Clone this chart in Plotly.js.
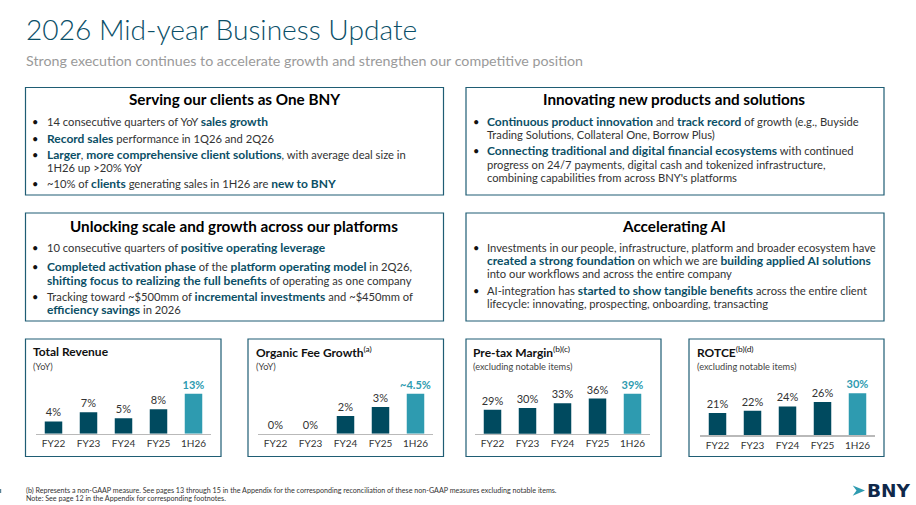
<!DOCTYPE html>
<html><head><meta charset="utf-8">
<script src="https://cdn.plot.ly/plotly-3.0.1.min.js"></script>
<style>html,body{margin:0;padding:0;background:#fff}#c{width:916px;height:505px}</style>
</head><body><div id="c"></div>
<script>
// ---- chart data ----
var categories = ['FY22','FY23','FY24','FY25','1H26'];
var revenueValues = [4,7,5,8,13];
var revenueLabels = ['4%','7%','5%','8%','13%'];
var organicValues = [0,0,2,3,4.5];
var organicLabels = ['0%','0%','2%','3%','~4.5%'];
var marginValues = [29,30,33,36,39];
var marginLabels = ['29%','30%','33%','36%','39%'];
var rotceValues = [21,22,24,26,30];
var rotceLabels = ['21%','22%','24%','26%','30%'];
var panelTitles = ['<b>Total Revenue</b>','<b>Organic Fee Growth</b><sup>(a)</sup>','<b>Pre-tax Margin</b><sup>(b)(c)</sup>','<b>ROTCE</b><sup>(b)(d)</sup>'];
var panelSubtitles = ['(YoY)','(YoY)','(excluding notable items)','(excluding notable items)'];
var headings = ['Serving our clients as One BNY','Innovating new products and solutions','Unlocking scale and growth across our platforms','Accelerating AI'];
function B(s){return '<span style="color:#0b4f66;font-size:12px"><b>'+s+'</b></span>';}
var box1 = ['14 consecutive quarters of YoY '+B('sales growth'),
  B('Record sales')+' performance in 1Q26 and 2Q26',
  B('Larger')+', '+B('more comprehensive client solutions')+', with average deal size in',
  '1H26 up >20% YoY',
  '~10% of '+B('clients')+' generating sales in 1H26 are '+B('new to BNY')];
var box2 = [B('Continuous product innovation')+' and '+B('track record')+' of growth (e.g., Buyside',
  'Trading Solutions, Collateral One, Borrow Plus)',
  B('Connecting traditional and digital financial ecosystems')+' with continued',
  'progress on 24/7 payments, digital cash and tokenized infrastructure,',
  "combining capabilities from across BNY's platforms"];
var box3 = ['10 consecutive quarters of '+B('positive operating leverage'),
  B('Completed activation phase')+' of the '+B('platform operating model')+' in 2Q26,',
  B('shifting focus to realizing the full benefits')+' of operating as one company',
  'Tracking toward ~$500mm of '+B('incremental investments')+' and ~$450mm of',
  B('efficiency savings')+' in 2026'];
var box4 = ['Investments in our people, infrastructure, platform and broader ecosystem have',
  B('created a strong foundation')+' on which we are '+B('building applied AI solutions'),
  'into our workflows and across the entire company',
  'AI-integration has '+B('started to show tangible benefits')+' across the entire client',
  'lifecycle: innovating, prospecting, onboarding, transacting'];
var footnotes = ['(b) Represents a non-GAAP measure. See pages 13 through 15 in the Appendix for the corresponding reconciliation of these non-GAAP measures excluding notable items.',
  'Note: See page 12 in the Appendix for corresponding footnotes.'];

// ---- layout ----
var W=916,H=505, FONT='Lato, sans-serif', DARK='#004a5f', TEAL='#2e9bb0', BORDER='#1f5d74';
function px(x){return x/W;} function py(y){return 1-y/H;}
var ann=[], shapes=[];
function text(x,y,s,size,color,anchor,extra){
  var f={family:(extra&&extra.family)||FONT,size:size,color:color};
  if(extra&&extra.weight)f.weight=extra.weight;
  ann.push({xref:'paper',yref:'paper',x:px(x),y:py(y),text:s,showarrow:false,font:f,xanchor:anchor||'left',yanchor:'middle',align:anchor||'left',borderpad:0,borderwidth:0});
}
function rect(x0,y0,x1,y1){shapes.push({type:'rect',xref:'paper',yref:'paper',x0:px(x0),x1:px(x1),y0:py(y0),y1:py(y1),line:{color:BORDER,width:1.2},fillcolor:'rgba(0,0,0,0)'});}

text(25.5,28.5,'2026 Mid-year Business Update',28.15,'#0a4f68','left',{weight:300});
text(25.5,60.5,'Strong execution continues to accelerate growth and strengthen our competitive position',14.25,'#9a9a9a','left');

rect(25.5,87.5,443.5,195);rect(466,87.5,884,195);rect(25.5,213,443.5,321);rect(466,213,884,321);
rect(25.5,339,221,456.5);rect(248,339,443.5,456.5);rect(466,339,661,456.5);rect(689,339,884,456.5);

var boxes=[
 {lines:box1,head:headings[0],hx:234.5,hy:99.5,tx:46.5,bx:34.5,ys:[121.4,138.4,154.4,167.4,183.4],bullets:[0,1,2,4]},
 {lines:box2,head:headings[1],hx:674,hy:99.5,tx:486.5,bx:476,ys:[121,134.4,150.6,164,177],bullets:[0,2]},
 {lines:box3,head:headings[2],hx:234.5,hy:226.2,tx:46.5,bx:34.5,ys:[247.6,266.6,280,296,309.6],bullets:[0,1,3]},
 {lines:box4,head:headings[3],hx:674,hy:226.2,tx:486.5,bx:476,ys:[247.6,260.4,273.6,290,303.4],bullets:[0,3]}
];
boxes.forEach(function(b){
  text(b.hx,b.hy,'<b>'+b.head+'</b>',15.25,'#000','center');
  b.lines.forEach(function(l,i){text(b.tx,b.ys[i],l,11.2,'#333');});
  b.bullets.forEach(function(i){text(b.bx,b.ys[i],'•',11,'#111','center');});
});

var panels=[
 {v:revenueValues,t:revenueLabels,l:36,r:211,base:433.7,top:375,floor:0,scale:3.07,tx:32.5},
 {v:organicValues,t:organicLabels,l:258,r:433,base:433.7,top:375,floor:0,scale:8.9,tx:255.5},
 {v:marginValues,t:marginLabels,l:475,r:650,base:433.7,top:375,floor:14,scale:1.6,tx:473},
 {v:rotceValues,t:rotceLabels,l:700,r:875,base:435.3,top:375,floor:10.8,scale:2.19,tx:697}
];
var traces=[], layout={width:W,height:H,margin:{l:0,r:0,t:0,b:0},paper_bgcolor:'#fff',plot_bgcolor:'rgba(0,0,0,0)',showlegend:false,bargap:0.5,font:{family:FONT}};
panels.forEach(function(p,i){
  var n=i?String(i+1):'';
  traces.push({type:'bar',x:categories,y:p.v,xaxis:'x'+n,yaxis:'y'+n,
    text:p.t.map(function(s,j){return j===4?'<b>'+s+'</b>':s;}),
    textposition:'outside',cliponaxis:false,constraintext:'none',
    textfont:{family:FONT,size:11,color:['#333','#333','#333','#333',TEAL]},
    marker:{color:[DARK,DARK,DARK,DARK,TEAL]},hoverinfo:'none'});
  layout['xaxis'+n]={domain:[px(p.l),px(p.r)],anchor:'y'+n,type:'category',categoryorder:'array',categoryarray:categories,range:[-0.5,4.5],showline:true,linecolor:'#b9b9b9',linewidth:1.5,ticks:'',ticklabelstandoff:1.5,showgrid:false,zeroline:false,fixedrange:true,tickfont:{family:FONT,size:10,color:'#333'}};
  layout['yaxis'+n]={domain:[py(p.base),py(p.top)],anchor:'x'+n,range:[p.floor,p.floor+(p.base-p.top)/p.scale],visible:false,fixedrange:true};
  text(p.tx,351.5,panelTitles[i],12,'#111');
  text(p.tx,366,panelSubtitles[i],9.2,'#444');
});
text(25.5,490.5,footnotes[0],7.15,'#333');
text(25.5,498.5,footnotes[1],7.15,'#333');
text(866.5,490.5,'<b>BNY</b>',18.5,'#10284a','left',{family:'DejaVu Sans, sans-serif'});
shapes.push({type:'path',xref:'paper',yref:'paper',path:'M '+px(852.7)+' '+py(485.5)+' L '+px(865)+' '+py(490.5)+' L '+px(852.7)+' '+py(495.7)+' L '+px(856.5)+' '+py(490.5)+' Z',fillcolor:TEAL,line:{width:0}});
shapes.push({type:'rect',xref:'paper',yref:'paper',x0:0,x1:px(1.2),y0:py(493),y1:py(489),fillcolor:'#5a8296',line:{width:0}});
layout.annotations=ann; layout.shapes=shapes;
Plotly.newPlot('c',traces,layout,{displayModeBar:false,staticPlot:true});
</script></body></html>
